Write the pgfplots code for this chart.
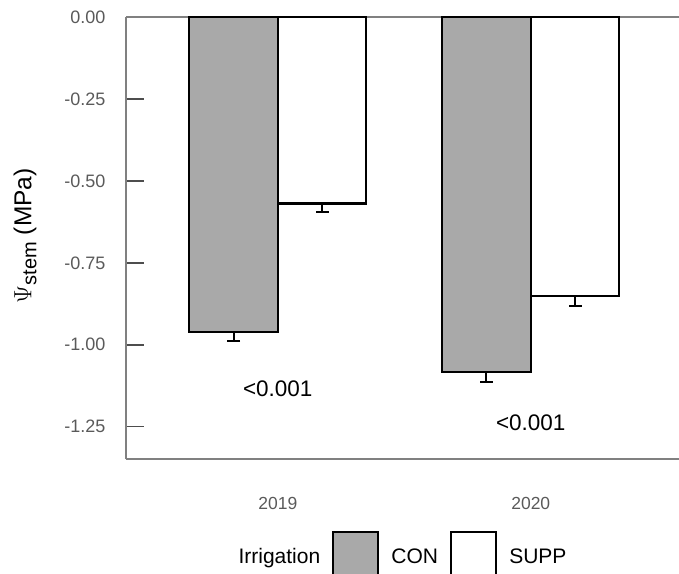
\documentclass[border=0pt]{standalone}
\usepackage{fontspec}
\setmainfont{Liberation Sans}
\usepackage{pgfplots}
\pgfplotsset{compat=1.18}
\definecolor{congray}{RGB}{169,169,169}
\definecolor{axgray}{RGB}{128,128,128}
\definecolor{tickgray}{RGB}{77,77,77}
\definecolor{labgray}{RGB}{90,90,90}
\begin{document}
\begin{tikzpicture}
\path[use as bounding box, clip] (0,0) rectangle (679pt,573pt);
\begin{axis}[
  at={(126pt,114pt)}, anchor=south west,
  scale only axis, width=553pt, height=442pt,
  xmin=0.4, xmax=2.586, ymin=-1.3485, ymax=0,
  axis x line*=box, axis y line*=left,
  axis line style={-, axgray, line width=1.5pt},
  ytick={-1.25,-1,-0.75,-0.5,-0.25,0},
  yticklabels={-1.25,-1.00,-0.75,-0.50,-0.25,0.00},
  ytick pos=left,
  tick align=inside,
  major tick length=18pt,
  ytick style={draw=tickgray, line width=1.5pt},
  xtick={1,2}, xticklabels={2019,2020},
  xtick style={draw=none},
  yticklabel style={font=\fontsize{18}{21}\selectfont, text=labgray, xshift=-17pt},
  xticklabel style={font=\fontsize{17.5}{21}\selectfont, text=labgray, yshift=-17pt},
  every axis y label/.style={at={(axis description cs:-0.1826,0.505)}, rotate=90, anchor=center, font=\fontsize{24.5}{28}\selectfont},
  ylabel={{\fontsize{31}{31}\selectfont$\Psi$}\raisebox{-5pt}{\fontsize{20}{20}\selectfont stem} (MPa)},
  ybar=0pt, bar width=0.35,
  legend columns=-1,
  legend style={at={(0.491,-0.2217)}, anchor=center, draw=none, fill=none,
    font=\fontsize{21}{25}\selectfont, column sep=10pt},
]
\addlegendimage{empty legend}
\addlegendentry{Irrigation}
\addplot[fill=congray, draw=black, line width=2.2pt,
  legend image code/.code={\draw[fill=congray, draw=black, line width=2.2pt] (0pt,-25pt) rectangle (45pt,25pt);},
  error bars/.cd, y dir=minus, y explicit,
  error bar style={line width=2pt, black},
  error mark options={rotate=90, line width=2pt, black, mark size=6.5pt}]
  coordinates {(1,-0.961) -= (0,0.028) (2,-1.083) -= (0,0.031)};
\addlegendentry{CON}
\addplot[fill=white, draw=black, line width=2.2pt,
  legend image code/.code={\draw[fill=white, draw=black, line width=2.2pt] (0pt,-25pt) rectangle (45pt,25pt);},
  error bars/.cd, y dir=minus, y explicit,
  error bar style={line width=2pt, black},
  error mark options={rotate=90, line width=2pt, black, mark size=6.5pt}]
  coordinates {(1,-0.569) -= (0,0.027) (2,-0.851) -= (0,0.031)};
\addlegendentry{SUPP}
\node[font=\fontsize{22.5}{27}\selectfont] at (axis cs:1,-1.135) {<0.001};
\node[font=\fontsize{22.5}{27}\selectfont] at (axis cs:2,-1.238) {<0.001};
\end{axis}
\end{tikzpicture}
\end{document}
